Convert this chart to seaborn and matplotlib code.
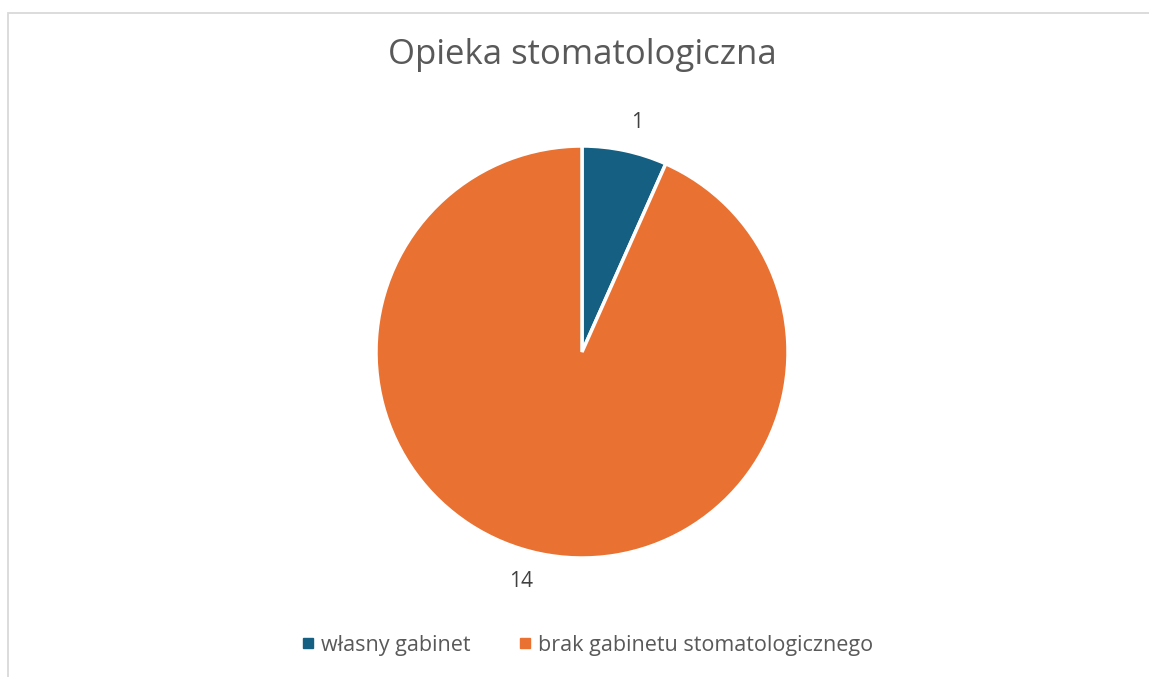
import matplotlib
matplotlib.use("Agg")
import seaborn as sns
import matplotlib.pyplot as plt
from matplotlib.lines import Line2D
from matplotlib.patches import Rectangle

categories = ["własny gabinet", "brak gabinetu stomatologicznego"]
values = [1, 14]
title = "Opieka stomatologiczna"

sns.set_theme(style="white")
plt.rcParams["font.family"] = ["Open Sans", "DejaVu Sans"]
palette = ["#156082", "#E97132"]

W, H = 1149, 677
fig = plt.figure(figsize=(W / 100, H / 100), dpi=100)
fig.patch.set_facecolor("white")

# chart border (light gray, runs off right/bottom edge)
fig.add_artist(Rectangle((7.5 / W, -0.1), 1.2, 1.1 - 12.5 / H, transform=fig.transFigure,
                         fill=False, edgecolor="#D9D9D9", linewidth=1.3))

cx, cy, r = 582, 352, 206
ax = fig.add_axes([(cx - r) / W, (H - cy - r) / H, 2 * r / W, 2 * r / H])
wedges, texts = ax.pie(values, colors=palette, startangle=90, counterclock=False,
                       labels=[str(v) for v in values], labeldistance=1.14,
                       wedgeprops=dict(edgecolor="white", linewidth=2.5),
                       textprops=dict(color="#404040", fontsize=15))
ax.set_xlim(-1, 1)
ax.set_ylim(-1, 1)
ax.set_aspect("equal")
ax.axis("off")
for t in texts:
    t.set_clip_on(False)

fig.text(cx / W, 1 - 55 / H, title, ha="center", va="center", fontsize=25, color="#595959")

handles = [Line2D([0], [0], marker="s", linestyle="", markersize=7.5,
                  markerfacecolor=c, markeredgecolor=c) for c in palette]
fig.legend(handles, categories, loc="center", bbox_to_anchor=(587 / W, 1 - 645 / H),
           ncol=2, frameon=False, fontsize=15.5, labelcolor="#595959",
           handletextpad=0.25, columnspacing=2.2, handlelength=0.7)

fig.savefig("out.png", dpi=100, facecolor="white")
